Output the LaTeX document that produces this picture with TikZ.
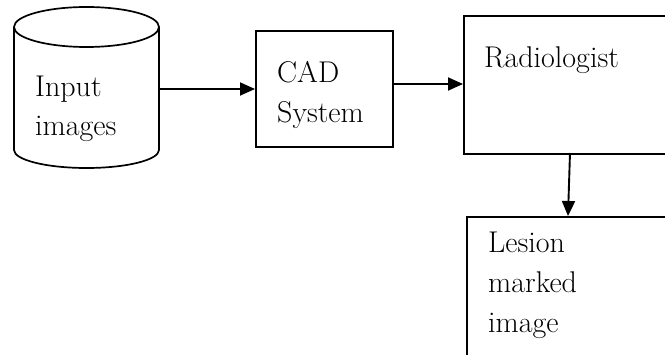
\documentclass[tikz,border=0pt]{standalone}
\usetikzlibrary{arrows.meta}
\begin{document}
\begin{tikzpicture}[x=1pt,y=1pt,
  ln/.style={line width=1.7pt},
  boxnode/.style={draw,line width=1.7pt,rectangle,inner sep=0pt,anchor=north west},
  lbl/.style={anchor=base west,inner sep=0pt,font=\fontsize{30}{40}\selectfont},
  arr/.style={line width=1.9pt,-{Triangle[length=15pt,width=13pt]}}]
\useasboundingbox (0,0) rectangle (665,354);
\clip (0,0) rectangle (665,354);
% cylinder
\draw[ln] (14,327) -- (14,204) arc[start angle=180,end angle=360,x radius=72.5,y radius=18] -- (159,327);
\draw[ln] (86.5,327) ellipse[x radius=72.5,y radius=20];
\node[inner sep=0pt,minimum width=145pt,minimum height=162pt,anchor=north west] (inp) at (14,347) {};
\node[lbl] (t1) at (35,257) {Input};
\node[lbl] (t2) at (35,218) {images};
% CAD
\node[boxnode,minimum width=137pt,minimum height=116pt] (cad) at (255,324) {};
\node[lbl] (t3) at (277,271) {CAD};
\node[lbl] (t4) at (277,231) {System};
% Radiologist
\node[boxnode,minimum width=230pt,minimum height=138pt] (rad) at (463,339) {};
\node[lbl] (t5) at (484,286) {Radiologist};
% Lesion
\node[boxnode,minimum width=230pt,minimum height=160pt] (les) at (466,138) {};
\node[lbl] (t6) at (488,101) {Lesion};
\node[lbl] (t7) at (488,61) {marked};
\node[lbl] (t8) at (488,21) {image};
% arrows
\draw[arr] (inp.east |- 0,265) -- (cad.west |- 0,265);
\draw[arr] (cad.east |- 0,270) -- (rad.west |- 0,270);
\coordinate (a3s) at (570,201);
\coordinate (a3e) at (568,138);
\draw[arr] (a3s) -- (a3e);
\end{tikzpicture}
\end{document}
